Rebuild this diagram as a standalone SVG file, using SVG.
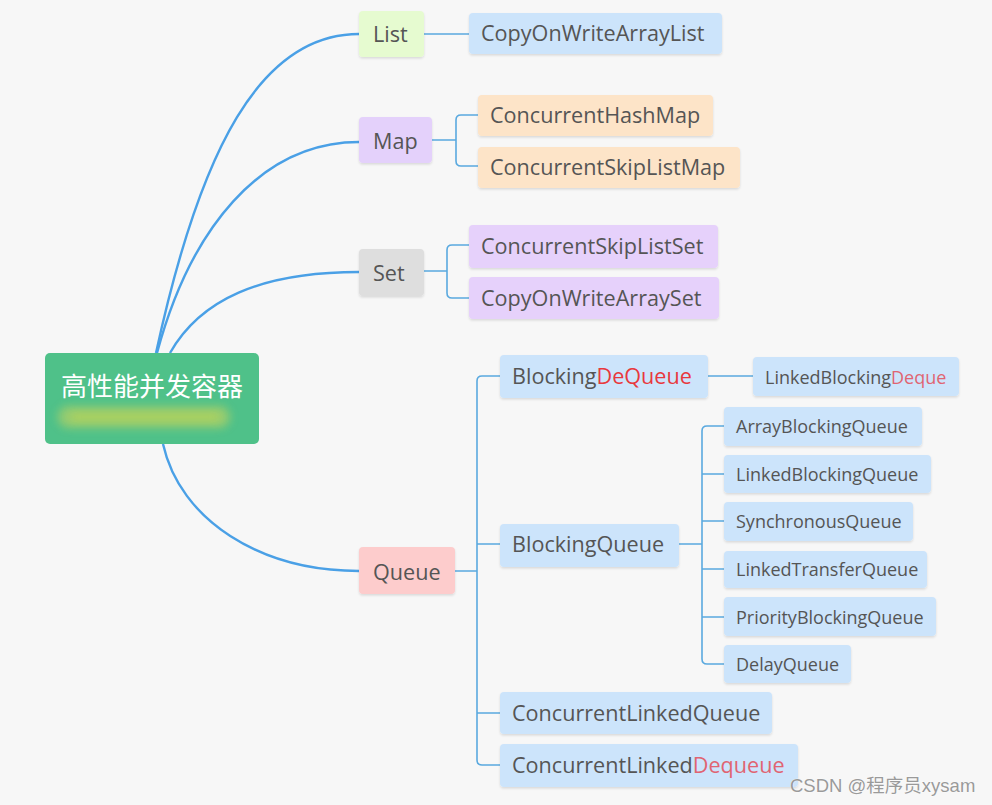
<svg xmlns="http://www.w3.org/2000/svg" width="992" height="805" viewBox="0 0 992 805">
<defs>
<filter id="sh" x="-10%" y="-20%" width="120%" height="150%">
<feDropShadow dx="0" dy="1.5" stdDeviation="1" flood-color="#000" flood-opacity="0.12"/>
</filter>
<filter id="blur" x="-20%" y="-100%" width="140%" height="300%">
<feGaussianBlur stdDeviation="4"/>
</filter>
<style>
.t{font-family:"Open Sans","Noto Sans","DejaVu Sans",sans-serif;fill:#555;}
.l{font-size:21.6px;}
.s{font-size:18px;}
.red{fill:#e8383d;}
.pk{fill:#e06472;}
.cv{fill:none;stroke:#4aa0e6;stroke-width:2.4;}
.br{fill:none;stroke:#5aa9df;stroke-width:1.6;}
.blue{fill:#cce4fb;}
</style>
</defs>
<rect width="992" height="805" fill="#f7f7f7"/>
<g id="connectors">
<path class="cv" d="M156,353 C200,150 260,34 359,34"/>
<path class="cv" d="M157,353 C190,230 260,142 359,142"/>
<path class="cv" d="M170,353 C200,300 260,272 359,272"/>
<path class="cv" d="M163,444 C180,520 260,571 359,571"/>
<path class="br" d="M424,34 H469"/>
<path class="br" d="M432,140 H456 M478,115 H461 Q456,115 456,120 V161 Q456,166 461,166 H478"/>
<path class="br" d="M424,271 H447 M469,245 H452 Q447,245 447,250 V293 Q447,298 452,298 H469"/>
<path class="br" d="M455,571 H477 M500,376 H482 Q477,376 477,381 V760 Q477,765 482,765 H500 M477,544 H500 M477,713 H500"/>
<path class="br" d="M708,376 H753"/>
<path class="br" d="M679,544 H702 M724,426 H707 Q702,426 702,431 V659 Q702,664 707,664 H724 M702,474 H724 M702,521 H724 M702,569 H724 M702,617 H724"/>
</g>
<g id="root">
<rect x="45" y="353" width="214" height="91" rx="5" fill="#4fc189"/>
<rect x="58" y="406" width="172" height="22" rx="10" fill="#a9cf6a" opacity="0.75" filter="url(#blur)"/>
<rect x="70" y="413" width="150" height="8" rx="4" fill="#c2d74f" opacity="0.6" filter="url(#blur)"/>
<text x="152" y="396" text-anchor="middle" font-family="'Noto Sans CJK SC',sans-serif" font-size="26" fill="#fff">高性能并发容器</text>
</g>
<g id="list">
<rect x="359" y="11" width="65" height="46" rx="4" fill="#e6fbd0" filter="url(#sh)"/>
<text class="t l" x="373" y="42">List</text>
</g>
<g id="copyonwritearraylist">
<rect x="469" y="13" width="253" height="41" rx="4" class="blue" filter="url(#sh)"/>
<text class="t l" x="481" y="41">CopyOnWriteArrayList</text>
</g>
<g id="map">
<rect x="359" y="117" width="73" height="46" rx="4" fill="#e4d1fb" filter="url(#sh)"/>
<text class="t l" x="373" y="149">Map</text>
</g>
<g id="concurrenthashmap">
<rect x="478" y="95" width="235" height="41" rx="4" fill="#fde4c8" filter="url(#sh)"/>
<text class="t l" x="490" y="123">ConcurrentHashMap</text>
</g>
<g id="concurrentskiplistmap">
<rect x="478" y="147" width="262" height="41" rx="4" fill="#fde4c8" filter="url(#sh)"/>
<text class="t l" x="490" y="175">ConcurrentSkipListMap</text>
</g>
<g id="set">
<rect x="359" y="249" width="65" height="47" rx="4" fill="#dedede" filter="url(#sh)"/>
<text class="t l" x="373" y="281">Set</text>
</g>
<g id="concurrentskiplistset">
<rect x="469" y="225" width="249" height="43" rx="4" fill="#e6d1fb" filter="url(#sh)"/>
<text class="t l" x="481" y="254">ConcurrentSkipListSet</text>
</g>
<g id="copyonwritearrayset">
<rect x="469" y="277" width="250" height="42" rx="4" fill="#e6d1fb" filter="url(#sh)"/>
<text class="t l" x="481" y="306">CopyOnWriteArraySet</text>
</g>
<g id="queue">
<rect x="359" y="547" width="96" height="47" rx="4" fill="#fdcccc" filter="url(#sh)"/>
<text class="t l" x="373" y="580">Queue</text>
</g>
<g id="blockingdequeue">
<rect x="500" y="355" width="208" height="43" rx="4" class="blue" filter="url(#sh)"/>
<text class="t l" x="512" y="384">Blocking<tspan class="red">DeQueue</tspan></text>
</g>
<g id="linkedblockingdeque">
<rect x="753" y="357" width="206" height="39" rx="4" class="blue" filter="url(#sh)"/>
<text class="t s" x="765" y="384">LinkedBlocking<tspan class="pk">Deque</tspan></text>
</g>
<g id="blockingqueue">
<rect x="500" y="524" width="179" height="43" rx="4" class="blue" filter="url(#sh)"/>
<text class="t l" x="512" y="552">BlockingQueue</text>
</g>
<g id="arrayblockingqueue">
<rect x="724" y="407" width="198" height="39" rx="4" class="blue" filter="url(#sh)"/>
<text class="t s" x="736" y="433">ArrayBlockingQueue</text>
</g>
<g id="linkedblockingqueue">
<rect x="724" y="455" width="207" height="38" rx="4" class="blue" filter="url(#sh)"/>
<text class="t s" x="736" y="481">LinkedBlockingQueue</text>
</g>
<g id="synchronousqueue">
<rect x="724" y="502" width="189" height="39" rx="4" class="blue" filter="url(#sh)"/>
<text class="t s" x="736" y="528">SynchronousQueue</text>
</g>
<g id="linkedtransferqueue">
<rect x="724" y="551" width="203" height="37" rx="4" class="blue" filter="url(#sh)"/>
<text class="t s" x="736" y="576">LinkedTransferQueue</text>
</g>
<g id="priorityblockingqueue">
<rect x="724" y="597" width="212" height="39" rx="4" class="blue" filter="url(#sh)"/>
<text class="t s" x="736" y="624">PriorityBlockingQueue</text>
</g>
<g id="delayqueue">
<rect x="724" y="645" width="127" height="38" rx="4" class="blue" filter="url(#sh)"/>
<text class="t s" x="736" y="671">DelayQueue</text>
</g>
<g id="concurrentlinkedqueue">
<rect x="500" y="692" width="272" height="42" rx="4" class="blue" filter="url(#sh)"/>
<text class="t l" x="512" y="721">ConcurrentLinkedQueue</text>
</g>
<g id="concurrentlinkeddequeue">
<rect x="500" y="744" width="298" height="43" rx="4" class="blue" filter="url(#sh)"/>
<text class="t l" x="512" y="773">ConcurrentLinked<tspan class="pk">Dequeue</tspan></text>
</g>
<text x="790" y="792" font-family="'Liberation Sans','Noto Sans CJK SC',sans-serif" font-size="18.5" fill="#9a9a9a" stroke="#fff" stroke-width="0.6" paint-order="stroke">CSDN @程序员xysam</text>
</svg>
